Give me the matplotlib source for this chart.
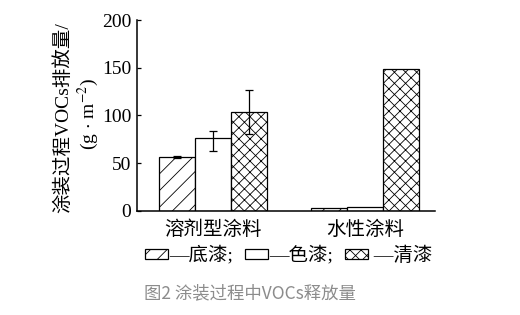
import numpy as np
import matplotlib
matplotlib.use("Agg")
import matplotlib.pyplot as plt
from matplotlib.patches import Patch

plt.rcParams['font.family'] = ['Liberation Serif', 'Noto Sans CJK SC']
plt.rcParams['mathtext.fontset'] = 'stix'
plt.rcParams['hatch.linewidth'] = 0.6

# data
categories = ['溶剂型涂料', '水性涂料']
primer = [57, 3]          # 底漆
color_coat = [76, 4]      # 色漆
clear_coat = [104, 149]   # 清漆
primer_err = [[1, 0], [1, 0]]
color_err = [[13, 0], [8, 0]]
clear_err = [[23, 0], [23, 0]]
series_labels = ['—底漆;', '—色漆;', ' —清漆']
yticks = [0, 50, 100, 150, 200]

fig = plt.figure(figsize=(5.2, 3.15), dpi=100)
ax = fig.add_axes([0.2635, 0.3302, 0.573, 0.6063])

x = np.arange(len(categories))
w = 0.237
bar_kw = dict(width=w, color='white', edgecolor='black', linewidth=0.9)
err_kw = dict(ecolor='black', elinewidth=0.9, capsize=2.6, capthick=0.9)

b1 = ax.bar(x - w, primer, hatch='//', **bar_kw)
b2 = ax.bar(x, color_coat, **bar_kw)
b3 = ax.bar(x + w, clear_coat, hatch='xxx', **bar_kw)

# error bars only on the solvent-based group
ax.errorbar(x[:1] - w, primer[:1], yerr=np.array(primer_err)[:, :1], fmt='none', **err_kw)
ax.errorbar(x[:1], color_coat[:1], yerr=np.array(color_err)[:, :1], fmt='none', **err_kw)
ax.errorbar(x[:1] + w, clear_coat[:1], yerr=np.array(clear_err)[:, :1], fmt='none', **err_kw)

ax.set_xlim(-0.5, 1.46)
ax.set_ylim(0, 200)
ax.set_yticks(yticks)
ax.set_xticks(x)
ax.set_xticklabels(categories, fontsize=14)
ax.tick_params(axis='x', length=0, pad=7)
ax.tick_params(axis='y', direction='in', length=3, width=0.9, labelsize=14, pad=4)
for s in ['top', 'right']:
    ax.spines[s].set_visible(False)
for s in ['left', 'bottom']:
    ax.spines[s].set_linewidth(1.1)

ax.text(-0.25, 0.49, '涂装过程VOCs排放量/', transform=ax.transAxes, rotation=90,
        ha='center', va='center', fontsize=14)
ax.text(-0.164, 0.51, r'(g $\cdot$ m$^{-2}$)', transform=ax.transAxes, rotation=90,
        ha='center', va='center', fontsize=14)

handles = [Patch(facecolor='white', edgecolor='black', hatch='//', linewidth=0.9),
           Patch(facecolor='white', edgecolor='black', linewidth=0.9),
           Patch(facecolor='white', edgecolor='black', hatch='xxx', linewidth=0.9)]
fig.legend(handles, series_labels, loc='center left', bbox_to_anchor=(0.279, 0.19),
           ncol=3, frameon=False, fontsize=14, handlelength=1.2, handleheight=0.4,
           handletextpad=0.05, columnspacing=0.6, borderpad=0, borderaxespad=0)

fig.text(0.277, 0.07, '图2 涂装过程中VOCs释放量', fontsize=12.5, color='#8c8c8c',
         family=['Noto Sans CJK SC'], ha='left', va='center')

fig.savefig('out.png', dpi=100)
